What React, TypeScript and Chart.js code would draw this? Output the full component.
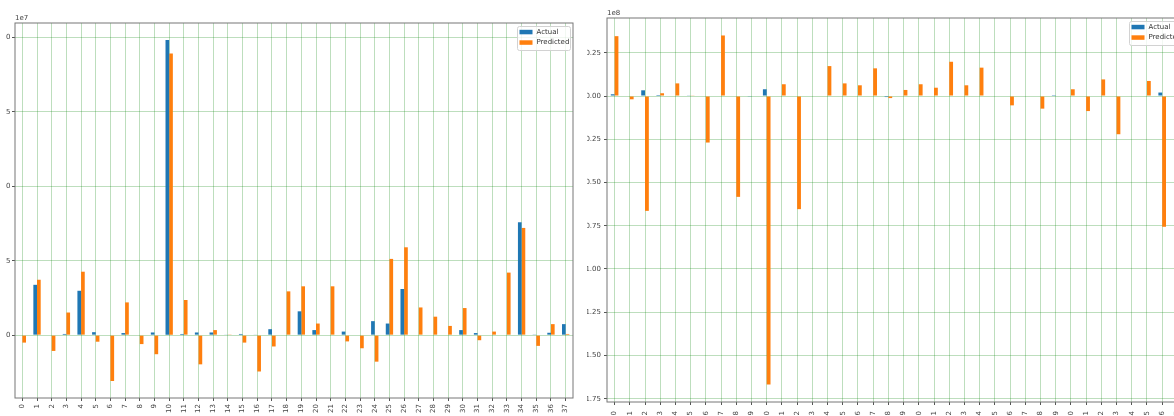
import React, { useEffect, useRef } from "react";
import { Chart, registerables } from "chart.js";

Chart.register(...registerables);

// ---------------- data ----------------
const CATEGORIES = [
  "0", "1", "2", "3", "4", "5", "6", "7", "8", "9",
  "10", "11", "12", "13", "14", "15", "16", "17", "18", "19",
  "20", "21", "22", "23", "24", "25", "26", "27", "28", "29",
  "30", "31", "32", "33", "34", "35", "36", "37",
];

// left panel, values in units of 1e7
const LEFT_ACTUAL = [
  0, 0.169, 0, 0.004, 0.149, 0.01, 0, 0.007, 0, 0.009,
  0.991, 0.004, 0.009, 0.009, 0.002, 0.004, 0.002, 0.02, 0, 0.08,
  0.017, 0, 0.012, 0, 0.047, 0.039, 0.155, 0, 0, 0,
  0.017, 0.007, 0, 0, 0.379, 0.001, 0.008, 0.037,
];
const LEFT_PREDICTED = [
  -0.025, 0.186, -0.053, 0.076, 0.213, -0.022, -0.154, 0.11, -0.03, -0.064,
  0.946, 0.118, -0.098, 0.017, 0.001, -0.025, -0.122, -0.038, 0.147, 0.164,
  0.039, 0.164, -0.021, -0.044, -0.089, 0.256, 0.295, 0.093, 0.062, 0.031,
  0.091, -0.017, 0.012, 0.21, 0.36, -0.036, 0.037, 0.004,
];
const LEFT_Y_TICKS = [0, 0.25, 0.5, 0.75, 1.0];
const LEFT_OFFSET_TEXT = "1e7";

// right panel, values in units of 1e8
const RIGHT_ACTUAL = [
  0.01, 0.003, 0.033, 0.006, 0, 0.002, 0, 0, 0, -0.004,
  0.039, 0, 0, 0, 0, 0, 0, 0, -0.006, 0,
  0, 0, 0, 0, 0, 0, 0, 0, 0, 0.005,
  0, 0, 0, 0, 0, 0, 0.02, 0,
];
const RIGHT_PREDICTED = [
  0.346, -0.019, -0.664, 0.016, 0.073, 0.002, -0.269, 0.35, -0.583, -0.003,
  -1.668, 0.068, -0.654, 0, 0.173, 0.073, 0.062, 0.16, -0.012, 0.035,
  0.068, 0.048, 0.198, 0.062, 0.164, 0, -0.054, 0, -0.073, 0.003,
  0.039, -0.087, 0.096, -0.221, 0, 0.087, -0.756, 0,
];
const RIGHT_Y_TICKS = [0.25, 0, -0.25, -0.5, -0.75, -1.0, -1.25, -1.5, -1.75];
const RIGHT_OFFSET_TEXT = "1e8";

const SERIES_NAMES = ["Actual", "Predicted"];

// ---------------- styles ----------------
const FONT = "'DejaVu Sans', sans-serif";
const BLUE = "#1f77b4";
const ORANGE = "#ff7f0e";
const GRID = "rgba(0,128,0,0.26)";
const SPINE = "#777777";
const TEXT = "#444444";

const fmtTick = (v: number) => {
  const s = Math.abs(v).toFixed(2);
  return v < -1e-9 ? "\u2212" + s : s;
};

const decorPlugin = {
  id: "decor",
  afterDraw(chart: any, _args: any, opts: any) {
    const { ctx, chartArea: a } = chart;
    ctx.save();
    // frame (all four spines)
    ctx.strokeStyle = SPINE;
    ctx.lineWidth = 1;
    ctx.strokeRect(a.left, a.top, a.right - a.left, a.bottom - a.top);
    // offset text
    ctx.font = `7px ${FONT}`;
    ctx.fillStyle = TEXT;
    ctx.textAlign = "left";
    ctx.textBaseline = "bottom";
    ctx.fillText(opts.offsetText, a.left, a.top - 1.5);
    // legend
    const bw = 53;
    const bh = 24;
    const x = a.right - 3 - bw;
    const y = a.top + 3;
    ctx.beginPath();
    (ctx as any).roundRect(x + 0.5, y + 0.5, bw, bh, 2);
    ctx.fillStyle = "rgba(255,255,255,0.8)";
    ctx.fill();
    ctx.strokeStyle = "#d2d2d2";
    ctx.stroke();
    chart.data.datasets.forEach((ds: any, i: number) => {
      const cy = y + 6 + i * 10.5;
      ctx.fillStyle = ds.backgroundColor;
      ctx.fillRect(x + 2.5, cy - 2.2, 13, 4.5);
      ctx.fillStyle = "#333333";
      ctx.textBaseline = "middle";
      ctx.fillText(ds.label, x + 19.5, cy);
    });
    ctx.restore();
  },
};

type PanelProps = {
  clipLeft: number;
  clipWidth: number;
  canvasLeft: number;
  canvasWidth: number;
  canvasHeight: number;
  yAxisWidth: number;
  xAxisHeight: number;
  topPad: number;
  rightPad: number;
  yLabelPad: number;
  xLabelPad: number;
  actual: number[];
  predicted: number[];
  yMin: number;
  yMax: number;
  yTicks: number[];
  offsetText: string;
};

function Panel(p: PanelProps) {
  const ref = useRef<HTMLCanvasElement | null>(null);
  useEffect(() => {
    if (!ref.current) return;
    const chart = new Chart(ref.current, {
      type: "bar",
      data: {
        labels: CATEGORIES,
        datasets: [
          {
            label: SERIES_NAMES[0],
            data: p.actual,
            backgroundColor: BLUE,
            borderWidth: 0,
            categoryPercentage: 0.5,
            barPercentage: 1.0,
          },
          {
            label: SERIES_NAMES[1],
            data: p.predicted,
            backgroundColor: ORANGE,
            borderWidth: 0,
            categoryPercentage: 0.5,
            barPercentage: 1.0,
          },
        ],
      },
      options: {
        responsive: false,
        animation: false,
        devicePixelRatio: 1,
        layout: { padding: { left: 0, right: p.rightPad, top: p.topPad, bottom: 0 } },
        plugins: {
          legend: { display: false },
          tooltip: { enabled: false },
          decor: { offsetText: p.offsetText },
        } as any,
        scales: {
          x: {
            type: "category",
            offset: true,
            grid: {
              offset: false,
              color: GRID,
              lineWidth: 1,
              tickLength: 3,
              tickColor: "#555555",
            },
            border: { display: false },
            ticks: {
              autoSkip: false,
              minRotation: 90,
              maxRotation: 90,
              padding: p.xLabelPad,
              color: TEXT,
              font: { family: FONT, size: 7 },
            },
            afterFit: (s: any) => {
              s.height = p.xAxisHeight;
            },
          },
          y: {
            type: "linear",
            min: p.yMin,
            max: p.yMax,
            afterBuildTicks: (s: any) => {
              s.ticks = p.yTicks.map((v) => ({ value: v }));
            },
            grid: {
              color: GRID,
              lineWidth: 1,
              tickLength: 3,
              tickColor: "#555555",
            },
            border: { display: false },
            ticks: {
              padding: p.yLabelPad,
              color: TEXT,
              font: { family: FONT, size: 7 },
              callback: (v: any) => fmtTick(Number(v)),
            },
            afterFit: (s: any) => {
              s.width = p.yAxisWidth;
            },
          },
        },
      } as any,
      plugins: [decorPlugin as any],
    });
    return () => chart.destroy();
  }, []);

  return (
    <div
      style={{
        position: "absolute",
        left: p.clipLeft,
        top: 0,
        width: p.clipWidth,
        height: 416,
        overflow: "hidden",
      }}
    >
      <canvas
        ref={ref}
        width={p.canvasWidth}
        height={p.canvasHeight}
        style={{
          position: "absolute",
          left: p.canvasLeft - p.clipLeft,
          top: 0,
          width: p.canvasWidth,
          height: p.canvasHeight,
        }}
      />
    </div>
  );
}

export default function App() {
  return (
    <div
      style={{
        position: "absolute",
        left: 0,
        top: 0,
        width: 1174,
        height: 416,
        overflow: "hidden",
        background: "#ffffff",
      }}
    >
      <Panel
        clipLeft={6}
        clipWidth={579}
        canvasLeft={-40}
        canvasWidth={623}
        canvasHeight={430}
        yAxisWidth={55}
        xAxisHeight={32}
        topPad={23}
        rightPad={10}
        yLabelPad={1.5}
        xLabelPad={3}
        actual={LEFT_ACTUAL}
        predicted={LEFT_PREDICTED}
        yMin={-0.211}
        yMax={1.048}
        yTicks={LEFT_Y_TICKS}
        offsetText={LEFT_OFFSET_TEXT}
      />
      <Panel
        clipLeft={587}
        clipWidth={587}
        canvasLeft={552}
        canvasWidth={643}
        canvasHeight={430}
        yAxisWidth={55}
        xAxisHeight={28}
        topPad={18}
        rightPad={10}
        yLabelPad={3}
        xLabelPad={6}
        actual={RIGHT_ACTUAL}
        predicted={RIGHT_PREDICTED}
        yMin={-1.769}
        yMax={0.451}
        yTicks={RIGHT_Y_TICKS}
        offsetText={RIGHT_OFFSET_TEXT}
      />
    </div>
  );
}
